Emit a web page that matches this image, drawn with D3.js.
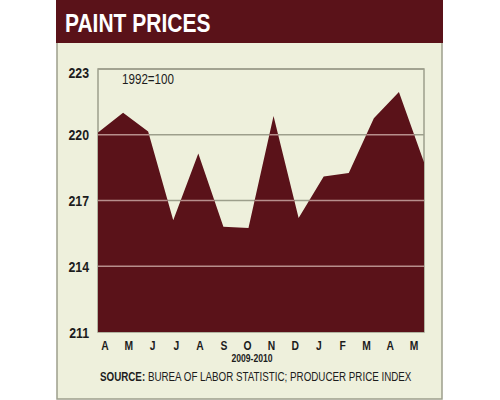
<!DOCTYPE html>
<html><head><meta charset="utf-8">
<script src="https://cdn.jsdelivr.net/npm/d3@7"></script>
<style>body{margin:0;background:#fff}svg{display:block}</style>
</head><body>
<svg id="c" width="500" height="400"></svg>
<script>
const months = ["A","M","J","J","A","S","O","N","D","J","F","M","A","M"];
const prices = [220.1, 221.0, 220.15, 216.1, 219.15, 215.8, 215.75, 220.85, 216.2, 218.1, 218.25, 220.75, 221.95, 218.75];
const yTicks = [211, 214, 217, 220, 223];
const title = "PAINT PRICES";
const baseNote = "1992=100";
const period = "2009-2010";
const sourceBold = "SOURCE:";
const sourceText = " BUREA OF LABOR STATISTIC; PRODUCER PRICE INDEX";

const RED = "#5a1219", CREAM = "#eef0dc", GRAY = "#9d9f8c", INK = "#1c1c1c";
const FONT = "'Liberation Sans',Arial,sans-serif";
const svg = d3.select("#c");

// condensed text: draw at origin, then translate + horizontal squeeze
function ntext(parent, x, y, sx, anchor) {
  return parent.append("text").attr("x",0).attr("y",0)
    .attr("transform",`translate(${x},${y}) scale(${sx},1)`)
    .attr("text-anchor",anchor||"start").attr("font-family",FONT);
}

// outer box
svg.append("rect").attr("x",57).attr("y",-2).attr("width",385).attr("height",401)
  .attr("fill",CREAM).attr("stroke",GRAY).attr("stroke-width",1.5);
svg.append("rect").attr("x",56).attr("y",0).attr("width",387).attr("height",43).attr("fill",RED);
ntext(svg,65,32,0.84).text(title).attr("fill","#fff").attr("font-weight","bold").attr("font-size",25);

const L=98,R=424,T=69,B=332;
const x = d3.scalePoint().domain(d3.range(prices.length)).range([L,R]);
const y = d3.scaleLinear().domain([211,223]).range([B,T]);
const xl = d3.scalePoint().domain(d3.range(months.length)).range([105,414]);

// gray gridlines behind
svg.append("g").selectAll("line").data(yTicks.filter(t=>t>211)).join("line")
  .attr("x1",L).attr("x2",R).attr("y1",d=>y(d)).attr("y2",d=>y(d))
  .attr("stroke",GRAY).attr("stroke-width",1.5);
// plot frame
svg.append("rect").attr("x",L).attr("y",T).attr("width",R-L).attr("height",B-T)
  .attr("fill","none").attr("stroke",GRAY).attr("stroke-width",1.5);

const area = d3.area().x((d,i)=>x(i)).y0(y(211)).y1(d=>y(d));
svg.append("defs").append("clipPath").attr("id","ac").append("path").attr("d",area(prices));
svg.append("path").attr("d",area(prices)).attr("fill",RED);
svg.append("g").attr("clip-path","url(#ac)").selectAll("line").data(yTicks.filter(t=>t>211&&t<223)).join("line")
  .attr("x1",L).attr("x2",R).attr("y1",d=>y(d)).attr("y2",d=>y(d))
  .attr("stroke","#b78e8c").attr("stroke-width",1.5);

// y labels
const gy = svg.append("g");
yTicks.forEach(d=>{
  ntext(gy,89,y(d)+(d===223?9:5.5),0.85,"end").text(d)
    .attr("font-weight","bold").attr("font-size",14.5).attr("fill",INK);
});

ntext(svg,122,84,0.83).text(baseNote).attr("font-size",14).attr("fill",INK);

// x labels
const gx = svg.append("g");
months.forEach((m,i)=>{
  ntext(gx,xl(i),349.5,0.84,"middle").text(m)
    .attr("font-weight","bold").attr("font-size",12.3).attr("fill",INK);
});

ntext(svg,252,361.5,0.82,"middle").text(period)
  .attr("font-weight","bold").attr("font-size",10.5).attr("fill",INK);

const st = ntext(svg,100,380.5,0.81).attr("font-size",12.1).attr("fill",INK);
st.append("tspan").attr("font-weight","bold").text(sourceBold);
st.append("tspan").text(sourceText);
</script>
</body></html>
